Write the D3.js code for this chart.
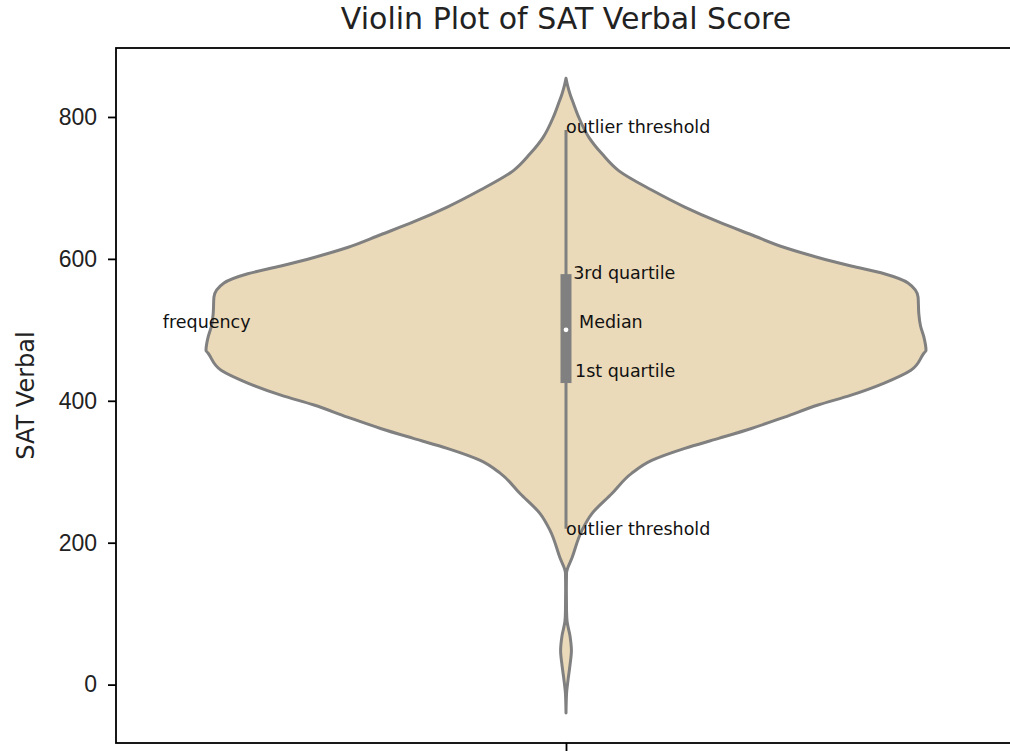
<!DOCTYPE html>
<html>
<head>
<meta charset="utf-8">
<script src="https://cdn.jsdelivr.net/npm/d3@7"></script>
<style>
  body { margin: 0; background: #fff; }
  svg { display: block; font-family: "DejaVu Sans", sans-serif; }
</style>
</head>
<body>
<div id="chart"></div>
<script>
// SAT verbal scores (y) and relative kernel density (half width of the violin)
const scores = [854.6, 843, 831, 820, 800, 771, 748, 724, 697, 673, 652, 634, 616, 602, 590, 579,
  566, 546, 523, 505, 490, 471, 467, 443, 425, 408, 394, 377, 361, 347, 333, 316, 298, 269,
  241, 217, 179, 157, 133, 104, 89, 69, 48, 27, 6, -13, -40];
const density = [0, 0.005, 0.012, 0.02, 0.035, 0.064, 0.10, 0.147, 0.238, 0.33, 0.424, 0.515, 0.607, 0.70, 0.792, 0.884,
  0.95, 0.978, 0.98, 0.985, 0.994, 1.0, 0.994, 0.958, 0.884, 0.792, 0.70, 0.607, 0.515, 0.424, 0.33, 0.238, 0.183, 0.127,
  0.072, 0.044, 0.017, 0.0015, 0.001, 0.0015, 0.003, 0.011, 0.015, 0.011, 0.0055, 0.0015, 0];

// box statistics
const q1 = 425, q3 = 578.5, median = 500;
const whiskerLow = 219.7, whiskerHigh = 781.6;

const yTicks = [0, 200, 400, 600, 800];

// annotation labels: text, x (category units), y (score)
const annoText = ["outlier threshold", "3rd quartile", "Median", "1st quartile", "outlier threshold", "frequency"];
const annoX = [0, 0.008, 0.0145, 0.01, 0, -0.448];
const annoY = [777, 571, 502.5, 433.5, 211, 502];

const width = 1010, height = 751;
const plotLeft = 116, plotRight = 1016, plotTop = 48, plotBottom = 743;

const svg = d3.select("#chart").append("svg")
  .attr("width", width)
  .attr("height", height);

const x = d3.scaleLinear().domain([-0.5, 0.5]).range([plotLeft, plotRight]);
const y = d3.scaleLinear().domain([-82.3, 897.2]).range([plotBottom, plotTop]);
const w = d3.scaleLinear().domain([0, 1]).range([0, 0.4]); // violin width = 0.8

const violin = scores.map((s, i) => ({ s: s, d: density[i] }));

// violin body
svg.append("path")
  .datum(violin)
  .attr("d", d3.area()
    .y(d => y(d.s))
    .x0(d => x(-w(d.d)))
    .x1(d => x(w(d.d)))
    .curve(d3.curveMonotoneY))
  .attr("fill", "#ebdab9")
  .attr("stroke", "#808080")
  .attr("stroke-width", 3)
  .attr("stroke-linejoin", "round");

// whiskers
svg.append("line")
  .attr("x1", x(0)).attr("x2", x(0))
  .attr("y1", y(whiskerHigh)).attr("y2", y(whiskerLow))
  .attr("stroke", "#808080")
  .attr("stroke-width", 3);

// interquartile box
svg.append("rect")
  .attr("x", x(0) - 5.5)
  .attr("width", 11)
  .attr("y", y(q3))
  .attr("height", y(q1) - y(q3))
  .attr("fill", "#808080");

svg.append("circle")
  .attr("cx", x(0))
  .attr("cy", y(median))
  .attr("r", 2.4)
  .attr("fill", "#fff");

// annotations
svg.append("g")
  .selectAll("text")
  .data(annoText)
  .enter().append("text")
  .attr("x", (d, i) => x(annoX[i]))
  .attr("y", (d, i) => y(annoY[i]))
  .style("font-size", "17.5px")
  .attr("fill", "#111")
  .text(d => d);

// axes
const yAxis = svg.append("g")
  .attr("transform", `translate(${plotLeft},0)`)
  .call(d3.axisLeft(y).tickValues(yTicks).tickSize(8).tickPadding(11));
yAxis.selectAll("text").style("font-size", "23px").attr("fill", "#222");

svg.append("g")
  .attr("transform", `translate(0,${plotBottom})`)
  .call(d3.axisBottom(x).tickValues([0]).tickSize(8).tickFormat(""));

svg.selectAll(".domain").remove();
svg.selectAll(".tick line").attr("stroke", "#000").attr("stroke-width", 1.8);

// frame
svg.append("rect")
  .attr("x", plotLeft)
  .attr("y", plotTop)
  .attr("width", plotRight - plotLeft)
  .attr("height", plotBottom - plotTop)
  .attr("fill", "none")
  .attr("stroke", "#000")
  .attr("stroke-width", 1.8);

// title and label
svg.append("text")
  .attr("x", (plotLeft + plotRight) / 2)
  .attr("y", 29)
  .attr("text-anchor", "middle")
  .style("font-size", "30px")
  .attr("fill", "#222")
  .text("Violin Plot of SAT Verbal Score");

svg.append("text")
  .attr("transform", `translate(34,${(plotTop + plotBottom) / 2}) rotate(-90)`)
  .attr("text-anchor", "middle")
  .style("font-size", "24px")
  .attr("fill", "#222")
  .text("SAT Verbal");
</script>
</body>
</html>
